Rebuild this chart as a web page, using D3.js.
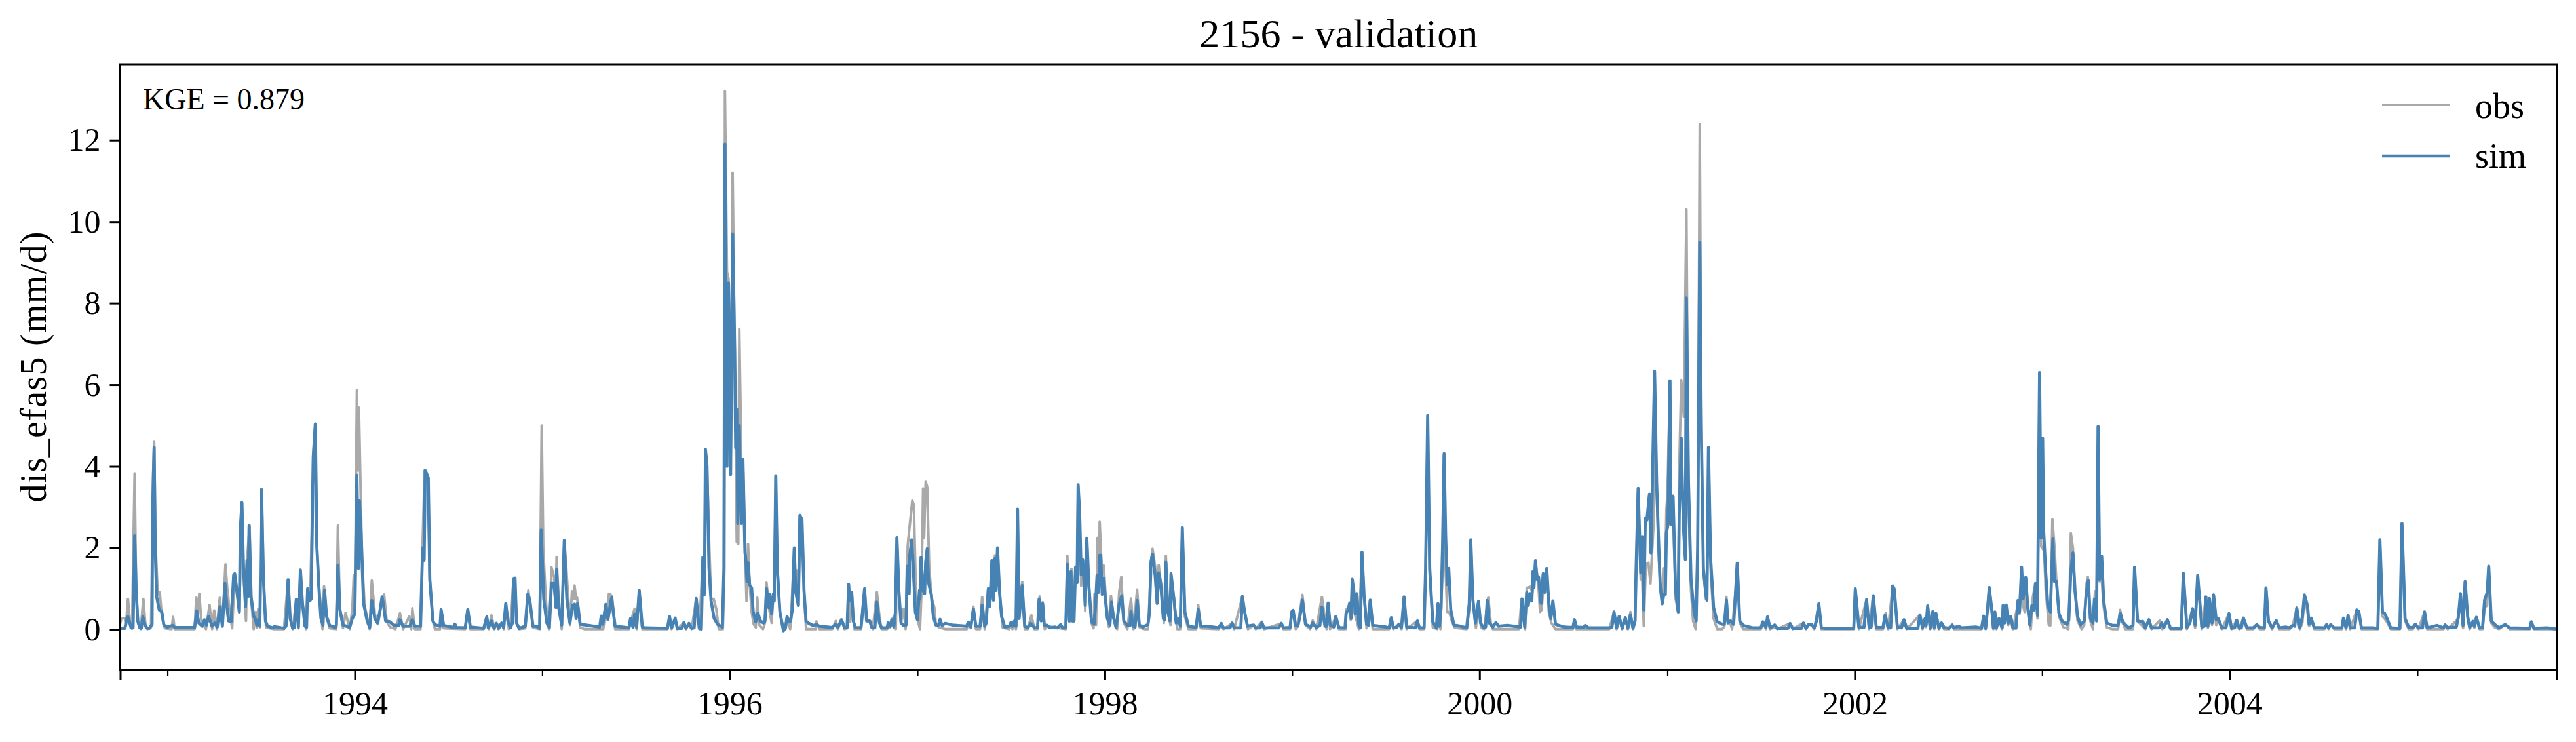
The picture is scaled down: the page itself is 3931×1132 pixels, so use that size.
<!DOCTYPE html>
<html>
<head>
<meta charset="utf-8">
<script src="https://cdn.jsdelivr.net/npm/d3@7"></script>
<style>
  body { margin: 0; background: #fff; }
  text { font-family: "Liberation Serif", serif; fill: #000; }
</style>
</head>
<body>
<div id="chart"></div>
<script>
// values, days counted from startDate, mm/d
const startDate = new Date(Date.UTC(1992, 9, 1));
const endDate = new Date(Date.UTC(2005, 8, 30));
const yTicks = [0, 2, 4, 6, 8, 10, 12];
const majorYears = [1994, 1996, 1998, 2000, 2002, 2004];
const minorYears = [1993, 1995, 1997, 1999, 2001, 2003, 2005];
const titleText = '2156 - validation';
const yLabel = 'dis_efas5 (mm/d)';
const kgeText = 'KGE = 0.879';
const seriesNames = ['obs', 'sim'];

const simDays1 = [0,9,13,15,18,21,25,28,31,34,38,41,
  44,49,53,57,62,63,66,68,71,76,81,85,
  91,102,106,145,149,153,160,164,168,172,179,184,
  189,194,199,204,208,211,216,221,223,228,232,234,
  237,240,244,247,249,251,255,260,263,266,269,272,
  275,279,283,287,298,300,319,323,327,331,336,339,
  343,347,351,355,360,363,365,369,372,376,380,383,
  387,391,395,398,402,408,419,421,424,428,434,447,
  452,457,461,464,466,469,474,481,486,490,496,501,
  506,510,513,517,525,532,543,545,551,564,569,574,
  585,589,592,594];
const simVals1 = [.03,.03,.27,.31,.19,.04,.04,2.3,.96,.21,.04,.03,
  .31,.08,.03,.03,.13,2.9,4.47,2.04,.8,.48,.43,.11,
  .06,.1,.05,.05,.46,.16,.08,.24,.11,.32,.08,.16,
  .06,.56,.08,1.13,.54,.21,.19,1.34,1.37,.86,.43,2.47,
  3.11,1.55,.56,1.69,.8,2.55,.8,.32,.27,.11,.24,.08,
  3.43,1.23,.21,.08,.04,.07,.03,.08,1.22,.27,.03,.05,
  .74,.05,1.46,.64,.08,.05,1,.7,.75,4.23,5.04,2.04,
  1.02,.27,.11,.96,.32,.1,.05,.11,1.58,.48,.11,.05,
  .27,.38,3.78,1.5,3.16,2.41,.64,.21,.05,.71,.27,.16,
  .46,.8,.59,.21,.19,.11,.1,.24,.08,.08,.24,.08,
  .08,2,1.7,3.9];

const simDays2 = [596,600,603,609,613,623,625,630,649,652,655,672,
  677,682,708,714,717,723,728,733,737,743,747,751,
  755,760,764,766,769,772,777,789,794,798,804,811,
  817,820,825,831,836,840,845,849,850,854,860,865,
  870,876,881,885,888,891,896,934,937,940,946,950,
  957,964,991,994,999,1002,1006,1011,1017,1023,1066,1070,
  1074,1081,1085,1094,1098,1102,1108,1113,1118,1122,1128,1132,
  1135,1138,1140,1143,1147,1151,1157,1164,1173,1176,1178,1182,
  1185,1189,1193,1197,1199,1201,1203,1206,1210,1213,1217,1219];
const simVals2 = [3.85,3.72,1.23,.21,.12,.08,.49,.1,.05,.13,.05,.04,
  .49,.06,.03,.31,.04,.21,.03,.15,.03,.16,.04,.64,
  .21,.04,.16,1.23,1.26,.16,.03,.08,.87,.7,.08,.08,
  .03,2.44,.75,.16,.05,1.13,1.13,.54,1.47,.54,.11,2.18,
  .75,.16,.59,.62,.27,.64,.13,.06,.33,.13,.62,.24,
  .78,.08,.04,.27,.05,.38,.05,.96,.06,.04,.03,.32,
  .04,.28,.03,.03,.17,.03,.15,.03,.04,.76,.03,.01,
  1.77,.86,4.42,4.02,1.5,.7,.27,.12,.06,1.5,11.9,4,
  8.5,3.8,9.7,6.85,4.45,5.4,2.6,5,2.6,4.18,1.9,1.66];

const simDays3 = [1221,1223,1226,1230,1233,1238,1242,1247,1253,1256,1259,1263,
  1265,1269,1272,1274,1277,1280,1285,1292,1296,1299,1303,1306,
  1309,1313,1316,1321,1324,1328,1332,1336,1340,1349,1356,1362,
  1387,1394,1398,1405,1411,1416,1419,1421,1425,1428,1432,1443,
  1446,1450,1454,1460,1464,1470,1474,1479,1483,1494,1496,1500,
  1503,1507,1510,1513,1517,1521,1526,1531,1533,1537,1538,1542,
  1545,1549,1553,1557,1558,1560,1564,1567,1569,1572,1575,1580,
  1584,1589,1594,1597,1601,1607,1621,1649,1652,1657,1662,1667,
  1675,1679,1684,1687,1691,1694,1698,1701,1704,1706,1709,1713,
  1717,1723,1732,1735,1738,1742,1745,1748,1751,1757,1762,1768,
  1774,1781];
const simVals3 = [1.18,1.64,1.1,1.02,.43,.19,.4,.21,.16,.21,1,.54,
  .87,.38,.86,.7,3.77,1.5,.43,-.03,.05,.32,.19,.21,
  .48,2,.91,.59,2.8,2.7,.96,.21,.16,.1,.12,.08,
  .05,.13,.05,.24,.05,.05,1.11,.7,.91,.21,.05,.04,
  .43,1,.21,.21,.05,.04,.67,.16,.04,.04,.17,.08,
  .24,.06,.43,2.25,.91,.16,.1,.11,1.55,.88,1.82,2.2,
  1.5,.43,.24,.96,.75,1.77,.96,.88,1.64,1.98,1.13,.86,
  .32,.11,.11,.25,.1,.15,.11,.08,.18,.06,.5,.08,
  .08,.6,.08,.16,1,.57,1.69,.72,1.74,.96,2,.91,
  .32,.06,.08,.17,.08,.21,.08,2.95,.27,1.08,.08,.04,
  .15,.04];

const simDays4 = [1787,1790,1794,1797,1800,1806,1811,1821,1826,1832,1836,1842,
  1845,1849,1852,1855,1858,1861,1864,1866,1869,1872,1875,1880,
  1883,1887,1892,1897,1900,1903,1906,1908,1910,1913,1916,1919,
  1923,1928,1931,1935,1940,1946,1951,1955,1962,1967,1969,1973,
  1977,1981,1985,1992,2002,2005,2008,2011,2016,2020,2023,2027,
  2032,2035,2037,2041,2045,2047,2053,2057,2062,2065,2069,2074,
  2081,2096,2100,2105,2117,2140,2145,2149,2162,2166,2170,2183,
  2186,2190,2196,2208,2212,2221,2224,2228,2257,2262,2266,2279,
  2282,2285,2289,2294,2299,2303,2309,2319,2323,2330,2337,2341,
  2347,2350,2353,2357,2364,2368,2374];
const simVals4 = [.05,.75,.21,.63,.11,.1,.04,.06,.04,.12,.04,.04,
  1.6,.21,1.42,.21,.21,1.53,1.15,3.55,2.84,1.34,1.71,.59,
  2.24,1.07,.19,.13,.59,1.34,.91,1.82,1.82,.86,1.26,.75,
  .27,.11,.67,.29,.05,.62,.83,.21,.1,.1,.44,.08,
  .06,.71,.11,.06,.12,.4,1.66,1.85,1.34,.64,1.39,1.13,
  .27,.24,1.65,.43,.21,1.37,.7,.16,.27,.08,2.5,.43,
  .08,.05,.49,.08,.08,.04,.15,.04,.04,.16,.04,.04,
  .81,.46,.08,.11,.04,.04,.17,.04,.04,.15,.04,.05,
  .43,.47,.11,.08,.38,.72,.13,.06,.16,.05,.1,.55,
  .08,.08,.65,.11,.06,.32,.05];

const simDays5 = [2381,2386,2388,2392,2395,2398,2400,2403,2406,2409,2413,2416,
  2419,2423,2428,2432,2435,2440,2466,2472,2476,2480,2487,2491,
  2496,2501,2506,2523,2527,2531,2540,2543,2547,2551,2557,2564,
  2567,2570,2573,2576,2579,2582,2585,2588,2592,2598,2611,2623,
  2628,2631,2635,2640,2646,2650,2655,2660,2663,2667,2674,2680,
  2685,2702,2728,2731,2736,2740,2743,2746,2750,2752,2754,2757,
  2760,2763,2768,2772,2775,2779,2783,2787,2791,2796,2800,2813,
  2830,2833,2837,2851,2854,2860,2900,2906,2910,2915,2920,2926,
  2932,2937,2942,2947,2951,2953,2957,2962,2965];
const simVals5 = [.04,.04,.4,.48,.65,.27,1.23,.96,.38,.88,.11,.04,
  1.9,.86,.13,.11,.72,.1,.06,.04,.29,.05,.05,.13,
  .05,.8,.06,.04,.21,.04,.04,1.5,5.25,1.5,.19,.04,
  .63,.08,.54,2.04,4.31,2.3,1.1,1.5,.48,.11,.08,.04,
  .64,2.2,.75,.16,.69,.16,.06,.06,.71,.16,.06,.17,
  .08,.1,.06,.75,.06,.91,.59,.88,.7,1.42,1.02,1.69,
  1.23,1.29,.64,1.37,.91,1.5,.64,.27,.7,.13,.11,.06,
  .05,.24,.06,.05,.1,.04,.04,.06,.43,.04,.32,.03,
  .29,.03,.36,.03,.21,1.47,3.46,1.39,2.28];

const simDays6 = [2968,2971,2974,2979,2982,2984,2989,2993,2996,3000,3004,3007,
  3010,3012,3015,3019,3021,3025,3030,3035,3037,3041,3045,3049,
  3051,3055,3060,3066,3070,3073,3077,3080,3084,3089,3091,3094,
  3098,3104,3111,3121,3125,3129,3132,3137,3143,3147,3150,3155,
  3162,3181,3196,3200,3206,3209,3214,3223,3228,3249,3253,3258,
  3275,3279,3284,3289,3295,3300,3304,3309,3314,3321,3377,3380,
  3387,3397,3402,3407,3411,3415,3421,3434,3438,3444,3449,3453,
  3456,3462,3470,3475,3480,3502,3506,3511,3516,3518,3521,3526,
  3531,3534,3537,3543,3548,3553,3562];
const simVals6 = [.48,2.73,2.68,3.32,1.88,3.11,6.33,3.59,2.47,1.07,.63,.86,
  .86,2.36,2.57,6.1,2.57,3.27,.96,.43,2.84,4.69,2.57,1.71,
  8.13,3.64,1.23,.43,.21,2.04,9.5,4.98,1.5,.86,.72,4.47,
  1.77,.54,.19,.13,.13,.72,.16,.21,.13,.96,1.63,.21,
  .1,.04,.04,.19,.05,.31,.04,.11,.03,.03,.15,.03,
  .03,.16,.03,.12,.12,.04,.19,.63,.04,.03,.03,1,
  .06,.05,.73,.06,.06,.83,.05,.05,.35,.04,.04,1.07,
  .99,.06,.04,.24,.03,.03,.36,.04,.27,.11,.58,.03,
  .44,.05,.4,.03,.16,.05,.03];

const simDays7 = [3569,3572,3581,3587,3615,3626,3630,3634,3638,3641,3646,3649,
  3652,3655,3660,3666,3668,3671,3674,3678,3681,3683,3687,3693,
  3697,3700,3704,3707,3712,3716,3720,3724,3728,3731,3735,3739,
  3742,3745,3747,3751,3755,3760,3765,3768,3772,3777,3783,3792,
  3796,3800,3804,3808,3813,3819,3826,3830,3834,3838,3843,3846,
  3850,3853,3856,3860,3864,3870,3881,3892,3896,3901,3906,3913,
  3921,3924,3930,3936,3940,3945,3952,3957,3972,3977,3981,3988,
  3994,4015,4019,4026,4032,4037,4042,4047,4055,4060,4063,4067,
  4070,4075,4078,4083,4087,4094,4102,4108,4113,4119,4123,4128,
  4132,4136,4143,4155];
const simVals7 = [.11,.04,.08,.04,.06,.03,.33,.03,.54,1.03,.48,.04,
  .43,.04,.27,.04,.59,.16,.6,.16,.32,.32,.04,.03,
  .71,.43,1.53,.75,1.28,.54,.11,.59,.48,1.13,.35,6.3,
  2.25,4.69,2.41,1.39,.59,.43,2.22,1.18,1.18,.38,.21,.12,
  .24,1.45,1.88,.96,.32,.11,.21,.91,1.2,.27,.16,.75,
  .21,4.98,1.23,1.8,.7,.16,.1,.1,.4,.19,.12,.04,
  .1,1.53,.21,.19,.2,.04,.24,.04,.04,.16,.04,.24,
  .03,.03,1.38,.05,.16,.51,.11,1.33,.06,.08,.8,.08,
  .76,.16,.85,.24,.27,.04,.04,.39,.03,.04,.23,.03,
  .04,.28,.04,.04];

const simDays8 = [4162,4168,4177,4180,4185,4192,4200,4206,4219,4226,4232,4236,
  4240,4246,4251,4255,4261,4264,4268,4274,4294,4298,4302,4306,
  4313,4328,4331,4336,4340,4344,4353,4357,4361,4366,4387,4398,
  4402,4407,4411,4417,4423,4441,4445,4451,4458,4466,4471,4477,
  4485,4489,4494,4513,4526,4529,4534,4551,4555,4559,4564,4568,
  4573,4577,4583,4586,4590,4596,4602,4606,4611,4614,4619,4626,
  4634,4646,4655,4694,4697,4702,4728,4747];
const simVals8 = [.12,.05,.04,1.02,.21,.04,.22,.04,.06,.04,.1,.08,
  .53,.04,.32,.85,.58,.13,.28,.05,.04,.12,.04,.12,
  .04,.04,.28,.04,.35,.04,.04,.48,.44,.04,.04,.03,
  2.2,.43,.4,.24,.04,.03,2.6,.27,.06,.04,.13,.04,
  .04,.43,.04,.1,.04,.11,.05,.06,.33,.88,.1,1.18,
  .32,.05,.2,.08,.3,.04,.05,.72,.91,1.55,.21,.12,
  .04,.12,.04,.03,.19,.03,.04,.01];

const obsDays1 = [0,2,9,11,15,19,23,28,31,35,40,45,
  49,53,60,64,66,69,73,77,81,87,100,103,
  106,145,148,151,154,158,167,174,179,183,188,194,
  199,205,208,213,218,223,228,232,237,240,245,247,
  252,255,260,264,266,269,272,276,279,284,300,319,
  327,331,336,343,347,351,355,362,365,370,376,380,
  383,388,394,397,402,408,421,424,428,434,439,447,
  452,455,457,461,463,465,468,471,476,486,490,496,
  502,509,514,519,525,536,545,551,563,567,569,574,
  585,589,593];
const obsVals1 = [.15,.27,.28,.08,.75,.16,.02,3.83,.96,.16,.01,.75,
  .13,.01,.05,3.8,4.6,2.04,.86,.91,.32,.03,.01,.31,
  .01,.01,.78,.43,.88,.21,.01,.6,.01,.47,.01,.78,
  .11,1.6,1.07,.48,.03,1.34,.91,.43,3.11,1.5,.21,1.69,
  2.55,.75,.01,.43,.05,.51,.05,3.43,1.23,.05,.01,.01,
  1.23,.27,.01,.75,.03,1.46,.64,.01,1,.7,4.23,5.04,
  2.04,.96,.01,1.06,.29,.03,.01,2.55,.48,.03,.41,.01,
  .48,1.34,.43,5.87,3.9,5.44,3.54,1.77,.59,.01,1.2,.38,
  .13,.64,.86,.21,.06,.01,.4,.01,.32,.01,.52,.01,
  .01,2.13,3.9];

const obsDays2 = [596,600,603,609,613,623,625,630,672,677,682,708,
  714,718,723,729,733,737,743,747,751,755,757,762,
  766,769,772,777,789,795,799,804,817,821,824,827,
  832,836,840,845,848,850,854,860,865,869,876,880,
  883,885,888,890,896,904,934,941,945,949,952,958,
  964,991,995,1002,1006,1011,1017,1066,1070,1074,1081,1085,
  1098,1102,1108,1113,1122,1128,1135,1138,1140,1143,1147,1151,
  1156,1161,1166,1174,1177];
const obsVals2 = [3.85,3.72,1.23,.21,.01,.01,.49,.03,.01,.49,.01,.01,
  .31,.01,.35,.01,.15,.01,.16,.01,.64,.21,.01,.38,
  1.23,1.26,.16,.01,.03,.96,.59,.05,.01,5,2.04,1.23,
  .11,.01,1.53,1.29,.54,1.78,.75,.01,2.18,1.5,.11,.94,
  .75,1.08,.75,.78,.05,.01,.01,.01,.48,.37,.88,.83,
  .01,.01,.21,.51,.01,.96,.01,.01,.32,.01,.27,.01,
  .17,.01,.15,.01,.75,.01,1.77,.86,4.42,4.02,2.25,.75,
  .75,.51,.01,.01,1.5];

const obsDays3 = [1178,1182,1185,1189,1193,1197,1201,1204,1206,1209,1211,1213,
  1217,1220,1223,1226,1230,1234,1238,1241,1245,1252,1256,1259,
  1264,1269,1272,1274,1277,1280,1285,1292,1296,1299,1305,1308,
  1313,1316,1318,1321,1324,1328,1332,1336,1355,1356,1362,1387,
  1394,1398,1405,1411,1416,1419,1422,1425,1430,1443,1446,1450,
  1454,1461,1466,1474,1479,1483,1494,1496,1500,1503,1507,1511,
  1513,1517,1521,1526,1530,1534,1537,1543,1546,1550,1554,1558,
  1561,1564,1566,1569,1572,1576,1581,1586,1589,1596,1608,1649,
  1652,1657,1662,1667,1675,1679,1684,1691,1694,1698,1701,1704,
  1706,1709,1713,1719,1732,1735,1738,1742,1745,1748,1751,1757,
  1762,1768,1775,1781];
const obsVals3 = [13.2,8.77,8.6,3.83,11.2,6.85,2.15,2.1,7.37,5,2.6,4.18,
  2.04,.7,2.1,1.13,.43,.13,.05,.78,.11,.01,.16,1.15,
  .51,.16,.86,.7,3.77,1.5,.43,-.03,.01,.32,.01,.62,
  2,.91,1.45,.59,2.8,2.7,.96,.01,.01,.2,.01,.01,
  .21,.01,.24,.01,.03,1.11,.19,.91,.01,.01,.43,1,
  .21,.21,.01,.92,.32,.01,.01,.17,.05,.24,.32,.01,
  2.25,.91,.16,.51,.01,2.04,2.44,3.16,3.05,.96,.21,.01,
  .96,3.46,2.25,3.62,3.5,1.5,.75,.54,.11,.05,.01,.01,
  .18,.03,.56,.01,.01,.8,.01,1,.57,1.69,.75,1.82,
  .96,2,.91,.05,.01,.17,.01,.21,.01,2.95,.27,1.17,
  .01,.01,.35,.01];

const obsDays4 = [1787,1791,1795,1797,1801,1806,1842,1845,1849,1853,1857,1861,
  1864,1866,1869,1872,1875,1880,1883,1887,1892,1896,1898,1901,
  1904,1907,1908,1912,1916,1920,1926,1930,1935,1942,1946,1950,
  1955,1962,1969,1974,1981,1986,1994,2002,2005,2008,2011,2016,
  2020,2023,2027,2033,2037,2041,2046,2047,2053,2059,2065,2069,
  2074,2081,2096,2100,2105,2140,2145,2149,2166,2170,2186,2190,
  2197,2208,2212,2224,2228,2262,2266,2279,2282,2285,2290,2298,
  2303,2309,2318,2323,2330,2341,2345,2350,2353,2357,2368,2374];
const obsVals4 = [.01,.81,.21,.67,.01,.08,.01,1.81,.19,1.49,.19,1.53,
  1.15,3.55,2.84,1.07,1.71,.45,2.24,1.07,.16,.03,.88,.11,
  2.25,1.07,2.64,1.5,1.57,.75,.06,.83,.32,.01,.91,1.29,
  .16,.01,.76,.01,.98,.05,.01,.01,.7,1.66,1.98,1.55,
  .64,1.58,1.13,.16,1.81,.43,.11,1.37,.75,.01,.01,2.5,
  .32,.01,.01,.6,.03,.01,.15,.01,.15,.01,.81,.46,
  .01,.1,.01,.19,.01,.15,.01,.01,.43,.47,.01,.43,
  .85,.11,.01,.22,.01,.8,.43,.01,.65,.01,.31,.01];

const obsDays5 = [2381,2387,2389,2395,2397,2400,2404,2413,2419,2423,2428,2435,
  2440,2472,2476,2480,2491,2496,2501,2506,2527,2531,2540,2543,
  2547,2551,2557,2566,2568,2572,2576,2579,2581,2585,2589,2594,
  2600,2623,2628,2631,2635,2641,2646,2651,2657,2665,2670,2674,
  2685,2725,2730,2737,2740,2747,2751,2754,2757,2762,2766,2769,
  2774,2779,2783,2788,2796,2830,2833,2837,2901,2910,2915,2920,
  2926,2932,2937,2942,2947,2951,2953,2957,2962,2965];
const obsVals5 = [.01,.01,.51,.43,.24,1.23,.43,.01,1.9,.83,.03,.72,
  .01,.01,.29,.01,.13,.01,.8,.01,.21,.01,.01,1.5,
  5.25,1.34,.05,.01,.62,.01,1.5,4.31,1.77,.43,.43,.21,
  .04,.01,.48,2.2,.7,.04,.69,.04,.01,.78,.16,.01,
  .01,.01,.76,.01,1.02,1.05,.91,1.23,1.61,1.23,.43,.48,
  1.34,1.23,.43,.16,.01,.01,.24,.01,.01,.43,.01,.32,
  .01,.29,.01,.43,.01,.19,1.39,3.43,1.23,1.23];

const obsDays6 = [2968,2972,2977,2981,2987,2989,2993,2996,3000,3004,3006,3009,
  3012,3014,3019,3021,3025,3030,3035,3037,3041,3046,3051,3055,
  3060,3064,3069,3073,3077,3080,3084,3089,3091,3094,3098,3104,
  3111,3121,3125,3129,3132,3135,3140,3147,3150,3155,3162,3196,
  3200,3206,3209,3214,3223,3228,3253,3258,3279,3284,3289,3295,
  3300,3309,3314,3377,3380,3387,3402,3407,3415,3421,3434,3439,
  3444,3453,3456,3462,3475,3480,3506,3511,3516,3518,3521,3526,
  3531,3534,3537,3543,3548,3553,3562];
const obsVals6 = [.08,1.6,1.64,1.13,2.57,6.33,3.59,2.1,1.07,.63,1.5,.86,
  2.95,3.27,6.1,2.57,2.84,.75,.43,3.96,6.12,5.22,10.3,3.1,
  .96,.21,.01,1.98,12.4,5.15,1.5,.75,.72,4.47,1.5,.27,
  .01,.01,.08,.8,.16,.21,.01,.96,1.63,.16,.01,.01,
  .19,.01,.31,.01,.06,.01,.15,.01,.16,.01,.12,.12,
  .01,.63,.01,.01,1,.01,.73,.01,.83,.01,.01,.4,
  .01,1.07,.99,.01,.24,.01,.36,.01,.27,.06,.58,.01,
  .44,.01,.4,.01,.16,.01,.01];

const obsDays7 = [3569,3572,3626,3630,3634,3641,3646,3649,3652,3655,3660,3666,
  3669,3674,3678,3683,3687,3697,3700,3704,3707,3710,3713,3716,
  3722,3726,3731,3735,3739,3742,3748,3751,3757,3760,3764,3768,
  3772,3777,3785,3795,3797,3800,3804,3808,3813,3821,3826,3830,
  3833,3838,3843,3847,3850,3853,3856,3860,3864,3870,3881,3892,
  3896,3901,3906,3921,3924,3930,3945,3952,3957,3973,3978,3988,
  3994,4015,4019,4026,4037,4042,4047,4055,4063,4067,4070,4075,
  4078,4083,4087,4094,4108,4113,4123,4128,4136,4143,4155];
const obsVals7 = [.1,.01,.01,.33,.01,1.03,.46,.01,.43,.01,.27,.01,
  .21,.6,.11,.32,.01,.64,.38,1.53,.59,.43,1.23,.48,
  .01,.8,1.13,.27,6.3,2.04,1.93,.96,.11,.1,2.7,2.04,
  1.13,.32,.06,.01,.64,2.36,2,.96,.21,.01,.11,1.09,
  1.29,.21,.01,.94,.21,4.98,1.18,1.23,.54,.05,.01,.01,
  .48,.16,.01,.01,1.53,.21,.01,.24,.01,.22,.01,.24,
  .01,.01,1.38,.01,.51,.04,1.33,.01,.8,.04,.76,.11,
  .85,.11,.27,.01,.39,.01,.23,.01,.28,.01,.01];

const obsDays8 = [4162,4168,4177,4180,4185,4192,4200,4206,4226,4232,4240,4246,
  4251,4255,4261,4264,4268,4274,4294,4298,4302,4306,4313,4328,
  4331,4336,4340,4344,4357,4361,4366,4398,4402,4407,4411,4417,
  4423,4441,4445,4451,4458,4466,4471,4477,4489,4494,4526,4529,
  4534,4555,4559,4564,4568,4573,4577,4583,4586,4590,4596,4602,
  4606,4611,4614,4619,4626,4634,4646,4655,4694,4697,4702,4747];
const obsVals8 = [.1,.01,.01,1.02,.19,.01,.22,.01,.01,.08,.53,.01,
  .16,.8,.43,.08,.25,.01,.01,.12,.01,.12,.01,.01,
  .28,.01,.35,.01,.48,.44,.01,.01,2.2,.32,.27,.16,
  .01,.01,2.6,.21,.01,.01,.13,.01,.43,.01,.01,.11,
  .01,.27,.88,.03,1.18,.27,.01,.2,.04,.3,.01,.01,
  .54,.59,1.55,.16,.05,.01,.12,.01,.01,.19,.01,.01];

const width = 3931;
const height = 1132;
const margin = {top: 98, right: 29, bottom: 110, left: 183.5};

function toRows(dayBlocks, valBlocks) {
  dayBlocks.forEach((b, i) => {
    if (b.length !== valBlocks[i].length) throw new Error(`block ${i + 1}: ${b.length} days, ${valBlocks[i].length} values`);
  });
  return d3.zip(d3.merge(dayBlocks), d3.merge(valBlocks))
    .map(([day, value]) => ({date: d3.utcDay.offset(startDate, day), value}));
}

const obsRows = toRows(
  [obsDays1, obsDays2, obsDays3, obsDays4, obsDays5, obsDays6, obsDays7, obsDays8],
  [obsVals1, obsVals2, obsVals3, obsVals4, obsVals5, obsVals6, obsVals7, obsVals8]);
const simRows = toRows(
  [simDays1, simDays2, simDays3, simDays4, simDays5, simDays6, simDays7, simDays8],
  [simVals1, simVals2, simVals3, simVals4, simVals5, simVals6, simVals7, simVals8]);

const svg = d3.select('#chart')
  .append('svg')
  .attr('width', width)
  .attr('height', height)
  .style('display', 'block');

const x = d3.scaleUtc()
  .domain([startDate, endDate])
  .range([margin.left, width - margin.right]);

const y = d3.scaleLinear()
  .domain([-0.99, 13.86])
  .range([height - margin.bottom, margin.top]);

const line = d3.line()
  .x(d => x(d.date))
  .y(d => y(d.value));

svg.append('path')
  .datum(obsRows)
  .attr('fill', 'none')
  .attr('stroke', '#a9a9a9')
  .attr('stroke-width', 3.9)
  .attr('stroke-linejoin', 'round')
  .attr('d', line);

svg.append('path')
  .datum(simRows)
  .attr('fill', 'none')
  .attr('stroke', 'steelblue')
  .attr('stroke-width', 4.7)
  .attr('stroke-linejoin', 'round')
  .attr('d', line);

// frame
svg.append('rect')
  .attr('x', margin.left)
  .attr('y', margin.top)
  .attr('width', width - margin.left - margin.right)
  .attr('height', height - margin.top - margin.bottom)
  .attr('fill', 'none')
  .attr('stroke', '#000')
  .attr('stroke-width', 3);

const yearDate = year => new Date(Date.UTC(year, 0, 1));

function xAxis(g) {
  g.attr('transform', `translate(0, ${height - margin.bottom})`)
    .call(d3.axisBottom(x)
      .tickValues([startDate, ...majorYears.map(yearDate), endDate])
      .tickSize(15)
      .tickFormat(d => majorYears.includes(d.getUTCFullYear()) && d.getUTCMonth() === 0 ? d.getUTCFullYear() : ''));
  g.select('.domain').remove();
  g.selectAll('.tick line').attr('stroke-width', 3);
  g.selectAll('.tick text')
    .attr('y', 68)
    .attr('dy', 0)
    .attr('font-size', 50)
    .attr('font-family', '"Liberation Serif", serif');
}

function xMinorAxis(g) {
  g.attr('transform', `translate(0, ${height - margin.bottom})`)
    .call(d3.axisBottom(x)
      .tickValues(minorYears.map(yearDate))
      .tickSize(9)
      .tickFormat(''));
  g.select('.domain').remove();
  g.selectAll('.tick line').attr('stroke-width', 2.2);
}

function yAxis(g) {
  g.attr('transform', `translate(${margin.left}, 0)`)
    .call(d3.axisLeft(y)
      .tickValues(yTicks)
      .tickSize(16)
      .tickPadding(14));
  g.select('.domain').remove();
  g.selectAll('.tick line').attr('stroke-width', 3);
  g.selectAll('.tick text')
    .attr('font-size', 50)
    .attr('font-family', '"Liberation Serif", serif');
}

svg.append('g').call(xAxis);
svg.append('g').call(xMinorAxis);
svg.append('g').call(yAxis);

svg.append('text')
  .attr('x', (margin.left + width - margin.right) / 2)
  .attr('y', 72)
  .attr('text-anchor', 'middle')
  .attr('font-size', 62)
  .attr('textLength', 425)
  .text(titleText);

svg.append('text')
  .attr('transform', 'translate(70, 560) rotate(-90)')
  .attr('text-anchor', 'middle')
  .attr('font-size', 56)
  .attr('textLength', 413)
  .text(yLabel);

svg.append('text')
  .attr('x', 218)
  .attr('y', 167)
  .attr('font-size', 46)
  .text(kgeText);

// legend
const legendColors = ['#a9a9a9', 'steelblue'];
const legendWidths = [3.9, 4.7];
const legendLineY = d3.scalePoint().domain(seriesNames).range([160, 238]);
const legendTextY = d3.scalePoint().domain(seriesNames).range([180, 256]);

seriesNames.forEach((name, i) => {
  svg.append('line')
    .attr('x1', 3635)
    .attr('x2', 3739)
    .attr('y1', legendLineY(name))
    .attr('y2', legendLineY(name))
    .attr('stroke', legendColors[i])
    .attr('stroke-width', legendWidths[i]);
  svg.append('text')
    .attr('x', 3777)
    .attr('y', legendTextY(name))
    .attr('font-size', 54)
    .text(name);
});
</script>
</body>
</html>
